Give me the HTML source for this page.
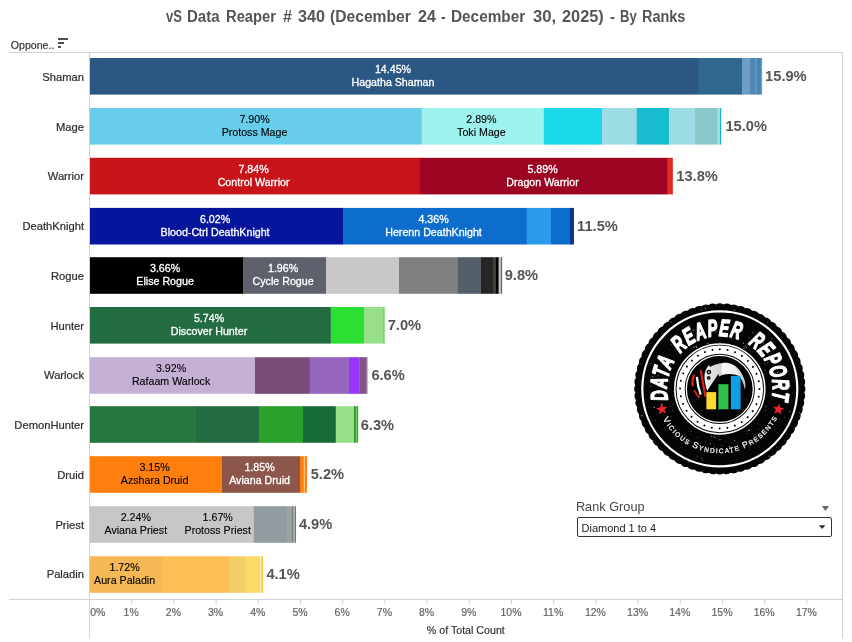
<!DOCTYPE html>
<html lang="en"><head><meta charset="utf-8"><title>vS Data Reaper # 340 - By Ranks</title>
<style>
html,body{margin:0;padding:0;background:#fff}
#viz{position:relative;width:852px;height:642px;overflow:hidden;background:#fff;font-family:"Liberation Sans", sans-serif}
#title{position:absolute;left:0;top:0;width:852px;height:36px;font-weight:bold;font-size:15.6px;line-height:18px;color:#555;white-space:nowrap}
#title span{position:absolute;top:7.9px;display:inline-block;transform-origin:0 0}
#flt-label{position:absolute;left:575.9px;top:499px;font-size:12.75px;line-height:15px;color:#484848;white-space:nowrap}
#flt-menu{position:absolute;left:822px;top:506px;width:0;height:0;border-left:3.6px solid transparent;border-right:3.6px solid transparent;border-top:4.8px solid #6a6a6a}
#flt-box{position:absolute;left:577px;top:517px;width:253px;height:18px;border:1px solid #333;border-radius:2px;background:transparent;box-sizing:content-box}
#flt-box span{position:absolute;left:3.5px;top:2px;transform:translateY(0.5px);font-size:11px;line-height:14px;color:#1a1a1a;white-space:nowrap}
#flt-box i{position:absolute;right:5.8px;top:7.2px;width:0;height:0;border-left:3.2px solid transparent;border-right:3.2px solid transparent;border-top:4px solid #2a2a2a}
</style></head><body>
<div id="viz">
<div id="title"><span style="left:165.8px;transform:scaleX(0.837)">vS</span> <span style="left:186.5px;transform:scaleX(0.961)">Data</span> <span style="left:225.8px;transform:scaleX(0.944)">Reaper</span> <span style="left:282.5px;transform:scaleX(1.022)">#</span> <span style="left:298.3px;transform:scaleX(1.036)">340</span> <span style="left:329.8px;transform:scaleX(1.003)">(December</span> <span style="left:417.5px;transform:scaleX(1.029)">24</span> <span style="left:441.3px;transform:scaleX(0.900)">-</span> <span style="left:451.2px;transform:scaleX(0.984)">December</span> <span style="left:532.5px;transform:scaleX(1.071)">30,</span> <span style="left:561.7px;transform:scaleX(1.046)">2025)</span> <span style="left:610.0px;transform:scaleX(0.940)">-</span> <span style="left:620.0px;transform:scaleX(0.837)">By</span> <span style="left:642.4px;transform:scaleX(0.927)">Ranks</span></div>
<svg width="852" height="642" viewBox="0 0 852 642" style="position:absolute;left:0;top:0" shape-rendering="auto">
<g fill="#d2d2d2">
<rect x="9" y="52" width="834" height="1"/>
<rect x="9" y="599" width="834" height="1"/>
<rect x="89" y="52" width="1" height="586"/>
<rect x="842" y="52" width="1" height="586"/>
<rect x="131.20" y="600" width="1" height="4"/>
<rect x="173.40" y="600" width="1" height="4"/>
<rect x="215.60" y="600" width="1" height="4"/>
<rect x="257.80" y="600" width="1" height="4"/>
<rect x="300.00" y="600" width="1" height="4"/>
<rect x="342.20" y="600" width="1" height="4"/>
<rect x="384.40" y="600" width="1" height="4"/>
<rect x="426.60" y="600" width="1" height="4"/>
<rect x="468.80" y="600" width="1" height="4"/>
<rect x="511.00" y="600" width="1" height="4"/>
<rect x="553.20" y="600" width="1" height="4"/>
<rect x="595.40" y="600" width="1" height="4"/>
<rect x="637.60" y="600" width="1" height="4"/>
<rect x="679.80" y="600" width="1" height="4"/>
<rect x="722.00" y="600" width="1" height="4"/>
<rect x="764.20" y="600" width="1" height="4"/>
<rect x="806.40" y="600" width="1" height="4"/>
</g>
<g>
<rect x="90.00" y="58.00" width="608.95" height="36.6" fill="#2b5783"/>
<rect x="698.80" y="58.00" width="43.35" height="36.6" fill="#30678f"/>
<rect x="742.00" y="58.00" width="8.15" height="36.6" fill="#6c9dc5"/>
<rect x="750.00" y="58.00" width="5.15" height="36.6" fill="#5585b5"/>
<rect x="755.00" y="58.00" width="2.15" height="36.6" fill="#4f9bc8"/>
<rect x="757.00" y="58.00" width="4.35" height="36.6" fill="#5080b0"/>
<rect x="761.20" y="58.00" width="0.95" height="36.6" fill="#1fb2d0"/>
<rect x="90.00" y="108.00" width="331.95" height="36.6" fill="#67cdea"/>
<rect x="421.80" y="108.00" width="122.05" height="36.6" fill="#9df2ee"/>
<rect x="543.70" y="108.00" width="58.45" height="36.6" fill="#1bd9ea"/>
<rect x="602.00" y="108.00" width="34.85" height="36.6" fill="#9ddbe5"/>
<rect x="636.70" y="108.00" width="32.45" height="36.6" fill="#19bdd0"/>
<rect x="669.00" y="108.00" width="26.15" height="36.6" fill="#9ddbe5"/>
<rect x="695.00" y="108.00" width="22.85" height="36.6" fill="#8bc8cc"/>
<rect x="717.70" y="108.00" width="2.45" height="36.6" fill="#a8dde2"/>
<rect x="720.00" y="108.00" width="1.15" height="36.6" fill="#17b5cf"/>
<rect x="90.00" y="157.80" width="330.15" height="36.6" fill="#c81418"/>
<rect x="420.00" y="157.80" width="247.85" height="36.6" fill="#9b0522"/>
<rect x="667.70" y="157.80" width="5.15" height="36.6" fill="#e02a24"/>
<rect x="90.00" y="207.90" width="253.15" height="36.6" fill="#05169c"/>
<rect x="343.00" y="207.90" width="183.95" height="36.6" fill="#0d6dcd"/>
<rect x="526.80" y="207.90" width="24.35" height="36.6" fill="#2b9aec"/>
<rect x="551.00" y="207.90" width="19.15" height="36.6" fill="#0d6dcd"/>
<rect x="570.00" y="207.90" width="3.95" height="36.6" fill="#0a3390"/>
<rect x="90.00" y="257.20" width="153.15" height="36.6" fill="#000000"/>
<rect x="243.00" y="257.20" width="83.15" height="36.6" fill="#5d616b"/>
<rect x="326.00" y="257.20" width="73.15" height="36.6" fill="#c8c8c8"/>
<rect x="399.00" y="257.20" width="58.95" height="36.6" fill="#808080"/>
<rect x="457.80" y="257.20" width="23.35" height="36.6" fill="#545f6b"/>
<rect x="481.00" y="257.20" width="12.15" height="36.6" fill="#252525"/>
<rect x="493.00" y="257.20" width="2.95" height="36.6" fill="#404040"/>
<rect x="495.80" y="257.20" width="3.05" height="36.6" fill="#000000"/>
<rect x="498.70" y="257.20" width="2.25" height="36.6" fill="#c8c8c8"/>
<rect x="500.80" y="257.20" width="1.35" height="36.6" fill="#6a6a6a"/>
<rect x="90.00" y="307.00" width="240.95" height="36.6" fill="#236b41"/>
<rect x="330.80" y="307.00" width="33.35" height="36.6" fill="#2ddf33"/>
<rect x="364.00" y="307.00" width="19.45" height="36.6" fill="#98df8a"/>
<rect x="383.30" y="307.00" width="1.15" height="36.6" fill="#7ab648"/>
<rect x="384.30" y="307.00" width="0.85" height="36.6" fill="#98df8a"/>
<rect x="90.00" y="357.20" width="165.15" height="36.6" fill="#c5b0d5"/>
<rect x="255.00" y="357.20" width="54.95" height="36.6" fill="#7b4b79"/>
<rect x="309.80" y="357.20" width="39.35" height="36.6" fill="#9467bd"/>
<rect x="349.00" y="357.20" width="10.35" height="36.6" fill="#9933ff"/>
<rect x="359.20" y="357.20" width="7.65" height="36.6" fill="#845582"/>
<rect x="366.70" y="357.20" width="0.95" height="36.6" fill="#b08fc0"/>
<rect x="90.00" y="406.20" width="106.15" height="36.6" fill="#26763f"/>
<rect x="196.00" y="406.20" width="63.15" height="36.6" fill="#236b41"/>
<rect x="259.00" y="406.20" width="44.15" height="36.6" fill="#2ca02c"/>
<rect x="303.00" y="406.20" width="32.95" height="36.6" fill="#186a38"/>
<rect x="335.80" y="406.20" width="18.35" height="36.6" fill="#98df8a"/>
<rect x="354.00" y="406.20" width="2.15" height="36.6" fill="#2ca02c"/>
<rect x="356.00" y="406.20" width="0.85" height="36.6" fill="#98df8a"/>
<rect x="356.70" y="406.20" width="1.45" height="36.6" fill="#2ca02c"/>
<rect x="90.00" y="456.20" width="132.15" height="36.6" fill="#ff7f0e"/>
<rect x="222.00" y="456.20" width="78.15" height="36.6" fill="#8c564b"/>
<rect x="300.00" y="456.20" width="3.95" height="36.6" fill="#ff7f0e"/>
<rect x="303.80" y="456.20" width="1.35" height="36.6" fill="#ffc080"/>
<rect x="305.00" y="456.20" width="1.95" height="36.6" fill="#ff7f0e"/>
<rect x="90.00" y="506.20" width="163.95" height="36.6" fill="#c7c7c7"/>
<rect x="253.80" y="506.20" width="33.35" height="36.6" fill="#929b9f"/>
<rect x="287.00" y="506.20" width="4.95" height="36.6" fill="#9aa3a6"/>
<rect x="291.80" y="506.20" width="2.05" height="36.6" fill="#808080"/>
<rect x="293.70" y="506.20" width="1.15" height="36.6" fill="#c8c8c8"/>
<rect x="294.70" y="506.20" width="1.25" height="36.6" fill="#707070"/>
<rect x="90.00" y="556.20" width="72.15" height="36.6" fill="#f6b856"/>
<rect x="162.00" y="556.20" width="68.15" height="36.6" fill="#fdbe55"/>
<rect x="230.00" y="556.20" width="15.95" height="36.6" fill="#f2ce68"/>
<rect x="245.80" y="556.20" width="14.35" height="36.6" fill="#ffd966"/>
<rect x="260.00" y="556.20" width="1.15" height="36.6" fill="#fff5cc"/>
<rect x="261.00" y="556.20" width="1.95" height="36.6" fill="#ffcf33"/>
</g>
<g font-family='"Liberation Sans", sans-serif' font-size="10.67" text-anchor="middle">
<text x="393.0" y="72.7" fill="#ffffff" stroke="#ffffff" stroke-width="0.3">14.45%</text>
<text x="393.0" y="86.0" fill="#ffffff" stroke="#ffffff" stroke-width="0.3">Hagatha Shaman</text>
<text x="254.5" y="122.7" fill="#000000" stroke="#000000" stroke-width="0.12">7.90%</text>
<text x="254.5" y="136.0" fill="#000000" stroke="#000000" stroke-width="0.12">Protoss Mage</text>
<text x="481.4" y="122.7" fill="#000000" stroke="#000000" stroke-width="0.12">2.89%</text>
<text x="481.4" y="136.0" fill="#000000" stroke="#000000" stroke-width="0.12">Toki Mage</text>
<text x="253.6" y="172.5" fill="#ffffff" stroke="#ffffff" stroke-width="0.3">7.84%</text>
<text x="253.6" y="185.8" fill="#ffffff" stroke="#ffffff" stroke-width="0.3">Control Warrior</text>
<text x="542.5" y="172.5" fill="#ffffff" stroke="#ffffff" stroke-width="0.3">5.89%</text>
<text x="542.5" y="185.8" fill="#ffffff" stroke="#ffffff" stroke-width="0.3">Dragon Warrior</text>
<text x="215.1" y="222.6" fill="#ffffff" stroke="#ffffff" stroke-width="0.3">6.02%</text>
<text x="215.1" y="235.9" fill="#ffffff" stroke="#ffffff" stroke-width="0.3">Blood-Ctrl DeathKnight</text>
<text x="433.5" y="222.6" fill="#ffffff" stroke="#ffffff" stroke-width="0.3">4.36%</text>
<text x="433.5" y="235.9" fill="#ffffff" stroke="#ffffff" stroke-width="0.3">Herenn DeathKnight</text>
<text x="165.1" y="271.9" fill="#ffffff" stroke="#ffffff" stroke-width="0.3">3.66%</text>
<text x="165.1" y="285.2" fill="#ffffff" stroke="#ffffff" stroke-width="0.3">Elise Rogue</text>
<text x="283.1" y="271.9" fill="#ffffff" stroke="#ffffff" stroke-width="0.3">1.96%</text>
<text x="283.1" y="285.2" fill="#ffffff" stroke="#ffffff" stroke-width="0.3">Cycle Rogue</text>
<text x="209.0" y="321.7" fill="#ffffff" stroke="#ffffff" stroke-width="0.3">5.74%</text>
<text x="209.0" y="335.0" fill="#ffffff" stroke="#ffffff" stroke-width="0.3">Discover Hunter</text>
<text x="171.1" y="371.9" fill="#000000" stroke="#000000" stroke-width="0.12">3.92%</text>
<text x="171.1" y="385.2" fill="#000000" stroke="#000000" stroke-width="0.12">Rafaam Warlock</text>
<text x="154.6" y="470.9" fill="#000000" stroke="#000000" stroke-width="0.12">3.15%</text>
<text x="154.6" y="484.2" fill="#000000" stroke="#000000" stroke-width="0.12">Azshara Druid</text>
<text x="259.6" y="470.9" fill="#ffffff" stroke="#ffffff" stroke-width="0.3">1.85%</text>
<text x="259.6" y="484.2" fill="#ffffff" stroke="#ffffff" stroke-width="0.3">Aviana Druid</text>
<text x="135.8" y="520.9" fill="#000000" stroke="#000000" stroke-width="0.12">2.24%</text>
<text x="135.8" y="534.2" fill="#000000" stroke="#000000" stroke-width="0.12">Aviana Priest</text>
<text x="217.7" y="520.9" fill="#000000" stroke="#000000" stroke-width="0.12">1.67%</text>
<text x="217.7" y="534.2" fill="#000000" stroke="#000000" stroke-width="0.12">Protoss Priest</text>
<text x="124.6" y="570.9" fill="#000000" stroke="#000000" stroke-width="0.12">1.72%</text>
<text x="124.6" y="584.2" fill="#000000" stroke="#000000" stroke-width="0.12">Aura Paladin</text>
</g>
<g font-family='"Liberation Sans", sans-serif' font-size="14.67" font-weight="bold" fill="#555555">
<text x="765.1" y="81.3">15.9%</text>
<text x="725.4" y="131.1">15.0%</text>
<text x="676.3" y="180.8">13.8%</text>
<text x="577.1" y="230.6">11.5%</text>
<text x="504.7" y="280.3">9.8%</text>
<text x="387.7" y="330.1">7.0%</text>
<text x="371.4" y="379.8">6.6%</text>
<text x="360.7" y="429.6">6.3%</text>
<text x="310.7" y="479.3">5.2%</text>
<text x="298.9" y="529.0">4.9%</text>
<text x="266.4" y="578.8">4.1%</text>
</g>
<g font-family='"Liberation Sans", sans-serif' font-size="11.2" text-anchor="end" fill="#2e2e2e" stroke="#2e2e2e" stroke-width="0.22">
<text x="84" y="80.7">Shaman</text>
<text x="84" y="130.5">Mage</text>
<text x="84" y="180.2">Warrior</text>
<text x="84" y="230.0">DeathKnight</text>
<text x="84" y="279.7">Rogue</text>
<text x="84" y="329.5">Hunter</text>
<text x="84" y="379.3">Warlock</text>
<text x="84" y="429.0">DemonHunter</text>
<text x="84" y="478.8">Druid</text>
<text x="84" y="528.5">Priest</text>
<text x="84" y="578.3">Paladin</text>
</g>
<g font-family='"Liberation Sans", sans-serif' font-size="10.5" text-anchor="middle" fill="#5e5e5e" stroke="#5e5e5e" stroke-width="0.15">
<text x="90.2" y="615.8" text-anchor="start">0%</text>
<text x="131.2" y="615.8">1%</text>
<text x="173.4" y="615.8">2%</text>
<text x="215.6" y="615.8">3%</text>
<text x="257.8" y="615.8">4%</text>
<text x="300.0" y="615.8">5%</text>
<text x="342.2" y="615.8">6%</text>
<text x="384.4" y="615.8">7%</text>
<text x="426.6" y="615.8">8%</text>
<text x="468.8" y="615.8">9%</text>
<text x="511.0" y="615.8">10%</text>
<text x="553.2" y="615.8">11%</text>
<text x="595.4" y="615.8">12%</text>
<text x="637.6" y="615.8">13%</text>
<text x="679.8" y="615.8">14%</text>
<text x="722.0" y="615.8">15%</text>
<text x="764.2" y="615.8">16%</text>
<text x="806.4" y="615.8">17%</text>
</g>
<text x="465.8" y="633.7" font-family='"Liberation Sans", sans-serif' font-size="10.67" text-anchor="middle" fill="#2e2e2e" stroke="#2e2e2e" stroke-width="0.15">% of Total Count</text>
<text x="10.8" y="48.7" font-family='"Liberation Sans", sans-serif' font-size="10.6" fill="#2e2e2e" stroke="#2e2e2e" stroke-width="0.15">Oppone..</text>
<g fill="#4f4f4f"><rect x="58" y="38" width="10" height="2"/><rect x="58" y="42" width="6" height="2"/><rect x="58" y="46" width="3" height="2"/></g>
<g id="logo">
<defs>
<path id="arcTop" d="M 667.96,399.92 A 53,53 0 1 1 771.64,399.92"/>
<path id="arcBot" d="M 662.92,418.89 A 64.3,64.3 0 0 0 776.99,418.29"/>
<linearGradient id="hoodG" x1="0" y1="0" x2="1" y2="0"><stop offset="0" stop-color="#f6f6f6"/><stop offset="0.15" stop-color="#e2e2e2"/><stop offset="0.40" stop-color="#d4d4d4"/><stop offset="0.44" stop-color="#f8f8f8"/><stop offset="0.8" stop-color="#ececec"/><stop offset="1" stop-color="#bdbdbd"/></linearGradient>
</defs>
<path d="M 723.49,304.38 A 7.0,7.0 0 0 1 730.84,305.02 A 7.0,7.0 0 0 1 738.11,306.31 A 7.0,7.0 0 0 1 745.24,308.22 A 7.0,7.0 0 0 1 752.18,310.74 A 7.0,7.0 0 0 1 758.86,313.86 A 7.0,7.0 0 0 1 765.26,317.55 A 7.0,7.0 0 0 1 771.30,321.78 A 7.0,7.0 0 0 1 776.95,326.53 A 7.0,7.0 0 0 1 782.17,331.75 A 7.0,7.0 0 0 1 786.92,337.40 A 7.0,7.0 0 0 1 791.15,343.44 A 7.0,7.0 0 0 1 794.84,349.84 A 7.0,7.0 0 0 1 797.96,356.52 A 7.0,7.0 0 0 1 800.48,363.46 A 7.0,7.0 0 0 1 802.39,370.59 A 7.0,7.0 0 0 1 803.68,377.86 A 7.0,7.0 0 0 1 804.32,385.21 A 7.0,7.0 0 0 1 804.32,392.59 A 7.0,7.0 0 0 1 803.68,399.94 A 7.0,7.0 0 0 1 802.39,407.21 A 7.0,7.0 0 0 1 800.48,414.34 A 7.0,7.0 0 0 1 797.96,421.28 A 7.0,7.0 0 0 1 794.84,427.96 A 7.0,7.0 0 0 1 791.15,434.36 A 7.0,7.0 0 0 1 786.92,440.40 A 7.0,7.0 0 0 1 782.17,446.05 A 7.0,7.0 0 0 1 776.95,451.27 A 7.0,7.0 0 0 1 771.30,456.02 A 7.0,7.0 0 0 1 765.26,460.25 A 7.0,7.0 0 0 1 758.86,463.94 A 7.0,7.0 0 0 1 752.18,467.06 A 7.0,7.0 0 0 1 745.24,469.58 A 7.0,7.0 0 0 1 738.11,471.49 A 7.0,7.0 0 0 1 730.84,472.78 A 7.0,7.0 0 0 1 723.49,473.42 A 7.0,7.0 0 0 1 716.11,473.42 A 7.0,7.0 0 0 1 708.76,472.78 A 7.0,7.0 0 0 1 701.49,471.49 A 7.0,7.0 0 0 1 694.36,469.58 A 7.0,7.0 0 0 1 687.42,467.06 A 7.0,7.0 0 0 1 680.74,463.94 A 7.0,7.0 0 0 1 674.34,460.25 A 7.0,7.0 0 0 1 668.30,456.02 A 7.0,7.0 0 0 1 662.65,451.27 A 7.0,7.0 0 0 1 657.43,446.05 A 7.0,7.0 0 0 1 652.68,440.40 A 7.0,7.0 0 0 1 648.45,434.36 A 7.0,7.0 0 0 1 644.76,427.96 A 7.0,7.0 0 0 1 641.64,421.28 A 7.0,7.0 0 0 1 639.12,414.34 A 7.0,7.0 0 0 1 637.21,407.21 A 7.0,7.0 0 0 1 635.92,399.94 A 7.0,7.0 0 0 1 635.28,392.59 A 7.0,7.0 0 0 1 635.28,385.21 A 7.0,7.0 0 0 1 635.92,377.86 A 7.0,7.0 0 0 1 637.21,370.59 A 7.0,7.0 0 0 1 639.12,363.46 A 7.0,7.0 0 0 1 641.64,356.52 A 7.0,7.0 0 0 1 644.76,349.84 A 7.0,7.0 0 0 1 648.45,343.44 A 7.0,7.0 0 0 1 652.68,337.40 A 7.0,7.0 0 0 1 657.43,331.75 A 7.0,7.0 0 0 1 662.65,326.53 A 7.0,7.0 0 0 1 668.30,321.78 A 7.0,7.0 0 0 1 674.34,317.55 A 7.0,7.0 0 0 1 680.74,313.86 A 7.0,7.0 0 0 1 687.42,310.74 A 7.0,7.0 0 0 1 694.36,308.22 A 7.0,7.0 0 0 1 701.49,306.31 A 7.0,7.0 0 0 1 708.76,305.02 A 7.0,7.0 0 0 1 716.11,304.38 A 7.0,7.0 0 0 1 723.49,304.38 Z" fill="#050505"/>
<circle cx="719.8" cy="388.9" r="77.5" fill="none" stroke="#ffffff" stroke-width="2.2"/>
<circle cx="719.8" cy="388.9" r="45.0" fill="none" stroke="#ffffff" stroke-width="1.5"/>
<circle cx="719.8" cy="388.9" r="39.2" fill="none" stroke="#ffffff" stroke-width="8.2"/>
<circle cx="719.8" cy="388.9" r="33.5" fill="none" stroke="#ffffff" stroke-width="1.3"/>
<circle cx="719.8" cy="388.9" r="39.7" fill="none" stroke="#000" stroke-width="2.0" stroke-linecap="round" stroke-dasharray="0.01 7.7851" transform="rotate(-90 719.8 388.9)"/>
<text font-family='"Liberation Sans", sans-serif' font-weight="bold" font-style="italic" font-size="23.6" letter-spacing="1.2" word-spacing="6" fill="#ffffff" stroke="#ffffff" stroke-width="1.5" stroke-linejoin="round"><textPath href="#arcTop" textLength="188.7" lengthAdjust="spacingAndGlyphs">DATA REAPER REPORT</textPath></text>
<text font-family='"Liberation Sans", sans-serif' font-size="6.6" fill="#f4f4f4" stroke="#f4f4f4" stroke-width="0.25"><textPath href="#arcBot" textLength="140.3" lengthAdjust="spacing"><tspan font-size="8.6">V</tspan>ICIOUS <tspan font-size="8.6">S</tspan>YNDICATE <tspan font-size="8.6">P</tspan>RESENTS</textPath></text>
<polygon points="661.15,403.32 663.20,406.97 667.37,406.63 664.54,409.71 666.15,413.58 662.34,411.84 659.16,414.56 659.64,410.40 656.07,408.22 660.17,407.39" fill="#e5262b"/>
<polygon points="779.28,403.38 780.25,407.45 784.35,408.28 780.78,410.46 781.26,414.62 778.08,411.90 774.28,413.64 775.89,409.77 773.05,406.69 777.23,407.03" fill="#e5262b"/>
<g transform="translate(690,360) scale(0.07042)">
<path d="M 270,70 L 287,100 C 330,72 420,38 520,38 C 630,42 728,150 766,260 C 790,320 796,370 777,420 C 765,340 740,280 700,232 C 640,196 540,190 455,212 L 415,236 L 402,200 C 370,250 300,350 245,440 C 225,380 205,300 205,230 C 207,170 235,110 270,70 Z" fill="url(#hoodG)"/>
<circle cx="268" cy="172" r="23" fill="#f2f2f2" stroke="#101010" stroke-width="22"/>
<circle cx="265" cy="255" r="17" fill="#9a9a9a" stroke="#101010" stroke-width="20"/>
<circle cx="215" cy="236" r="6" fill="#333"/>
<path d="M 58,207 C 30,270 30,330 38,375" fill="none" stroke="#e0201c" stroke-width="30"/>
<path d="M 60,428 C 80,470 105,505 135,535" fill="none" stroke="#e0201c" stroke-width="27"/>
<path d="M 152,142 L 218,520" fill="none" stroke="#e0201c" stroke-width="30"/>
<path d="M 97,240 C 105,330 125,420 152,492" fill="none" stroke="#ffffff" stroke-width="32"/>
</g>
<rect x="706.4" y="392.1" width="9.7" height="17.2" fill="#fdd835"/>
<rect x="718.4" y="384.2" width="10.0" height="25.1" fill="#2ec04a"/>
<rect x="730.9" y="375.9" width="9.7" height="33.4" fill="#0f9fe8"/>
<circle cx="753.8" cy="436.3" r="0.58" fill="#fff" opacity="0.28"/><circle cx="675.7" cy="438.5" r="0.28" fill="#fff" opacity="0.48"/><circle cx="676.4" cy="408.1" r="0.28" fill="#fff" opacity="0.29"/><circle cx="748.6" cy="333.9" r="0.31" fill="#fff" opacity="0.35"/><circle cx="785.9" cy="366.4" r="0.54" fill="#fff" opacity="0.43"/><circle cx="799.4" cy="412.9" r="0.68" fill="#fff" opacity="0.38"/><circle cx="757.8" cy="423.6" r="0.40" fill="#fff" opacity="0.62"/><circle cx="673.7" cy="363.0" r="0.57" fill="#fff" opacity="0.42"/><circle cx="781.5" cy="414.6" r="0.28" fill="#fff" opacity="0.34"/><circle cx="655.3" cy="420.5" r="0.41" fill="#fff" opacity="0.51"/><circle cx="700.4" cy="449.1" r="0.65" fill="#fff" opacity="0.56"/><circle cx="670.5" cy="364.0" r="0.51" fill="#fff" opacity="0.64"/><circle cx="702.4" cy="460.5" r="0.74" fill="#fff" opacity="0.30"/><circle cx="722.6" cy="327.1" r="0.33" fill="#fff" opacity="0.47"/><circle cx="696.5" cy="347.5" r="0.63" fill="#fff" opacity="0.51"/><circle cx="688.9" cy="461.9" r="0.60" fill="#fff" opacity="0.52"/><circle cx="654.3" cy="407.4" r="0.67" fill="#fff" opacity="0.68"/><circle cx="686.9" cy="334.0" r="0.28" fill="#fff" opacity="0.57"/><circle cx="790.3" cy="385.8" r="0.66" fill="#fff" opacity="0.38"/><circle cx="690.1" cy="336.0" r="0.26" fill="#fff" opacity="0.46"/><circle cx="758.6" cy="424.1" r="0.28" fill="#fff" opacity="0.60"/><circle cx="720.6" cy="439.8" r="0.45" fill="#fff" opacity="0.64"/><circle cx="673.2" cy="404.3" r="0.52" fill="#fff" opacity="0.65"/><circle cx="770.4" cy="330.7" r="0.39" fill="#fff" opacity="0.44"/><circle cx="764.3" cy="349.2" r="0.73" fill="#fff" opacity="0.32"/><circle cx="725.8" cy="441.3" r="0.37" fill="#fff" opacity="0.47"/><circle cx="714.3" cy="457.1" r="0.25" fill="#fff" opacity="0.44"/><circle cx="664.9" cy="364.6" r="0.73" fill="#fff" opacity="0.56"/><circle cx="671.3" cy="344.7" r="0.59" fill="#fff" opacity="0.27"/><circle cx="734.8" cy="310.1" r="0.69" fill="#fff" opacity="0.61"/><circle cx="670.8" cy="425.0" r="0.30" fill="#fff" opacity="0.54"/><circle cx="763.9" cy="408.8" r="0.35" fill="#fff" opacity="0.32"/><circle cx="775.5" cy="408.0" r="0.25" fill="#fff" opacity="0.32"/><circle cx="687.2" cy="426.6" r="0.26" fill="#fff" opacity="0.64"/><circle cx="761.1" cy="444.6" r="0.38" fill="#fff" opacity="0.41"/><circle cx="762.7" cy="430.6" r="0.67" fill="#fff" opacity="0.70"/><circle cx="656.4" cy="395.4" r="0.29" fill="#fff" opacity="0.30"/><circle cx="714.3" cy="447.7" r="0.66" fill="#fff" opacity="0.32"/><circle cx="764.5" cy="374.7" r="0.51" fill="#fff" opacity="0.32"/><circle cx="785.5" cy="400.2" r="0.51" fill="#fff" opacity="0.69"/><circle cx="693.7" cy="314.6" r="0.38" fill="#fff" opacity="0.42"/><circle cx="727.0" cy="337.0" r="0.52" fill="#fff" opacity="0.60"/><circle cx="729.7" cy="446.6" r="0.66" fill="#fff" opacity="0.69"/><circle cx="746.9" cy="315.3" r="0.66" fill="#fff" opacity="0.58"/><circle cx="665.5" cy="382.9" r="0.43" fill="#fff" opacity="0.26"/><circle cx="711.2" cy="435.2" r="0.38" fill="#fff" opacity="0.56"/><circle cx="641.9" cy="415.7" r="0.72" fill="#fff" opacity="0.69"/><circle cx="665.5" cy="450.8" r="0.36" fill="#fff" opacity="0.35"/><circle cx="734.9" cy="440.2" r="0.56" fill="#fff" opacity="0.66"/><circle cx="642.5" cy="398.9" r="0.58" fill="#fff" opacity="0.61"/><circle cx="693.6" cy="347.2" r="0.70" fill="#fff" opacity="0.60"/><circle cx="646.0" cy="399.2" r="0.34" fill="#fff" opacity="0.61"/><circle cx="738.2" cy="333.2" r="0.74" fill="#fff" opacity="0.43"/><circle cx="777.7" cy="368.8" r="0.61" fill="#fff" opacity="0.33"/><circle cx="749.4" cy="430.2" r="0.70" fill="#fff" opacity="0.61"/><circle cx="743.6" cy="343.2" r="0.74" fill="#fff" opacity="0.55"/><circle cx="663.2" cy="371.0" r="0.32" fill="#fff" opacity="0.26"/><circle cx="670.9" cy="321.9" r="0.51" fill="#fff" opacity="0.67"/><circle cx="763.1" cy="343.8" r="0.66" fill="#fff" opacity="0.34"/><circle cx="705.0" cy="442.5" r="0.37" fill="#fff" opacity="0.51"/><circle cx="671.0" cy="416.1" r="0.32" fill="#fff" opacity="0.66"/><circle cx="662.4" cy="404.3" r="0.54" fill="#fff" opacity="0.66"/><circle cx="773.7" cy="358.3" r="0.50" fill="#fff" opacity="0.49"/><circle cx="785.2" cy="396.6" r="0.47" fill="#fff" opacity="0.33"/><circle cx="733.8" cy="344.9" r="0.34" fill="#fff" opacity="0.46"/><circle cx="650.8" cy="363.3" r="0.41" fill="#fff" opacity="0.48"/><circle cx="734.1" cy="323.3" r="0.30" fill="#fff" opacity="0.50"/><circle cx="710.5" cy="443.6" r="0.64" fill="#fff" opacity="0.48"/><circle cx="724.0" cy="321.7" r="0.71" fill="#fff" opacity="0.45"/><circle cx="650.6" cy="386.5" r="0.51" fill="#fff" opacity="0.56"/><circle cx="658.0" cy="375.8" r="0.49" fill="#fff" opacity="0.67"/><circle cx="771.6" cy="338.1" r="0.72" fill="#fff" opacity="0.37"/><circle cx="782.8" cy="365.4" r="0.67" fill="#fff" opacity="0.31"/><circle cx="672.5" cy="406.9" r="0.29" fill="#fff" opacity="0.36"/><circle cx="696.2" cy="346.2" r="0.64" fill="#fff" opacity="0.65"/><circle cx="708.8" cy="338.2" r="0.58" fill="#fff" opacity="0.31"/><circle cx="797.7" cy="372.8" r="0.36" fill="#fff" opacity="0.68"/><circle cx="658.9" cy="393.8" r="0.74" fill="#fff" opacity="0.62"/><circle cx="672.4" cy="410.6" r="0.51" fill="#fff" opacity="0.40"/><circle cx="697.5" cy="437.5" r="0.61" fill="#fff" opacity="0.26"/><circle cx="657.4" cy="413.4" r="0.26" fill="#fff" opacity="0.40"/><circle cx="650.3" cy="383.5" r="0.28" fill="#fff" opacity="0.69"/><circle cx="794.6" cy="375.5" r="0.30" fill="#fff" opacity="0.37"/><circle cx="728.4" cy="342.2" r="0.39" fill="#fff" opacity="0.31"/><circle cx="772.5" cy="356.1" r="0.66" fill="#fff" opacity="0.37"/><circle cx="765.0" cy="363.8" r="0.54" fill="#fff" opacity="0.57"/><circle cx="766.0" cy="406.4" r="0.59" fill="#fff" opacity="0.44"/><circle cx="764.9" cy="370.5" r="0.57" fill="#fff" opacity="0.61"/><circle cx="750.2" cy="350.3" r="0.28" fill="#fff" opacity="0.64"/><circle cx="686.2" cy="442.5" r="0.53" fill="#fff" opacity="0.67"/><circle cx="758.5" cy="429.7" r="0.51" fill="#fff" opacity="0.36"/><circle cx="746.3" cy="431.5" r="0.28" fill="#fff" opacity="0.34"/><circle cx="700.2" cy="443.3" r="0.63" fill="#fff" opacity="0.38"/><circle cx="748.3" cy="447.3" r="0.42" fill="#fff" opacity="0.26"/><circle cx="775.1" cy="394.2" r="0.62" fill="#fff" opacity="0.50"/><circle cx="667.3" cy="397.3" r="0.72" fill="#fff" opacity="0.30"/><circle cx="649.6" cy="420.8" r="0.50" fill="#fff" opacity="0.63"/><circle cx="658.9" cy="386.3" r="0.59" fill="#fff" opacity="0.69"/><circle cx="749.0" cy="337.6" r="0.60" fill="#fff" opacity="0.54"/><circle cx="684.5" cy="439.1" r="0.28" fill="#fff" opacity="0.31"/><circle cx="717.0" cy="340.3" r="0.38" fill="#fff" opacity="0.32"/><circle cx="746.5" cy="347.6" r="0.69" fill="#fff" opacity="0.55"/><circle cx="722.6" cy="445.5" r="0.40" fill="#fff" opacity="0.46"/><circle cx="670.8" cy="406.3" r="0.38" fill="#fff" opacity="0.68"/><circle cx="640.4" cy="364.7" r="0.37" fill="#fff" opacity="0.68"/><circle cx="683.9" cy="434.2" r="0.25" fill="#fff" opacity="0.42"/><circle cx="655.8" cy="387.8" r="0.35" fill="#fff" opacity="0.48"/><circle cx="715.7" cy="434.9" r="0.29" fill="#fff" opacity="0.43"/><circle cx="766.9" cy="395.6" r="0.40" fill="#fff" opacity="0.35"/><circle cx="652.7" cy="376.5" r="0.63" fill="#fff" opacity="0.55"/><circle cx="772.9" cy="338.5" r="0.44" fill="#fff" opacity="0.40"/><circle cx="769.1" cy="456.2" r="0.61" fill="#fff" opacity="0.54"/><circle cx="744.1" cy="347.9" r="0.70" fill="#fff" opacity="0.53"/><circle cx="748.0" cy="320.6" r="0.32" fill="#fff" opacity="0.49"/><circle cx="753.0" cy="332.8" r="0.65" fill="#fff" opacity="0.62"/><circle cx="773.1" cy="346.4" r="0.59" fill="#fff" opacity="0.56"/><circle cx="773.5" cy="399.5" r="0.32" fill="#fff" opacity="0.41"/><circle cx="745.5" cy="346.0" r="0.53" fill="#fff" opacity="0.53"/><circle cx="690.3" cy="325.6" r="0.49" fill="#fff" opacity="0.25"/><circle cx="719.0" cy="312.6" r="0.50" fill="#fff" opacity="0.49"/><circle cx="784.8" cy="417.5" r="0.62" fill="#fff" opacity="0.36"/><circle cx="715.0" cy="437.5" r="0.61" fill="#fff" opacity="0.34"/><circle cx="793.1" cy="377.6" r="0.50" fill="#fff" opacity="0.42"/><circle cx="693.8" cy="330.2" r="0.63" fill="#fff" opacity="0.53"/><circle cx="782.0" cy="421.8" r="0.32" fill="#fff" opacity="0.36"/><circle cx="694.9" cy="458.8" r="0.53" fill="#fff" opacity="0.26"/><circle cx="714.1" cy="436.9" r="0.59" fill="#fff" opacity="0.56"/><circle cx="701.6" cy="458.2" r="0.51" fill="#fff" opacity="0.46"/><circle cx="766.7" cy="432.1" r="0.70" fill="#fff" opacity="0.34"/><circle cx="796.4" cy="356.5" r="0.26" fill="#fff" opacity="0.46"/><circle cx="795.4" cy="373.5" r="0.47" fill="#fff" opacity="0.37"/><circle cx="770.7" cy="370.8" r="0.36" fill="#fff" opacity="0.51"/><circle cx="669.0" cy="381.2" r="0.73" fill="#fff" opacity="0.31"/><circle cx="642.7" cy="384.7" r="0.69" fill="#fff" opacity="0.57"/><circle cx="763.7" cy="356.1" r="0.49" fill="#fff" opacity="0.26"/><circle cx="673.7" cy="391.3" r="0.48" fill="#fff" opacity="0.39"/><circle cx="691.2" cy="431.6" r="0.41" fill="#fff" opacity="0.63"/><circle cx="720.0" cy="342.8" r="0.67" fill="#fff" opacity="0.30"/><circle cx="701.1" cy="309.9" r="0.70" fill="#fff" opacity="0.38"/><circle cx="672.8" cy="426.4" r="0.75" fill="#fff" opacity="0.52"/><circle cx="666.1" cy="415.0" r="0.39" fill="#fff" opacity="0.27"/><circle cx="745.1" cy="345.9" r="0.39" fill="#fff" opacity="0.67"/><circle cx="714.3" cy="444.1" r="0.51" fill="#fff" opacity="0.34"/><circle cx="777.7" cy="372.5" r="0.69" fill="#fff" opacity="0.62"/><circle cx="779.7" cy="352.7" r="0.72" fill="#fff" opacity="0.50"/><circle cx="789.6" cy="411.3" r="0.62" fill="#fff" opacity="0.45"/><circle cx="673.9" cy="330.1" r="0.39" fill="#fff" opacity="0.27"/><circle cx="776.4" cy="447.2" r="0.49" fill="#fff" opacity="0.40"/><circle cx="715.9" cy="331.7" r="0.74" fill="#fff" opacity="0.37"/><circle cx="697.5" cy="456.2" r="0.53" fill="#fff" opacity="0.43"/><circle cx="747.4" cy="433.4" r="0.35" fill="#fff" opacity="0.66"/><circle cx="731.9" cy="452.6" r="0.70" fill="#fff" opacity="0.70"/><circle cx="760.1" cy="437.4" r="0.35" fill="#fff" opacity="0.29"/><circle cx="769.4" cy="420.9" r="0.37" fill="#fff" opacity="0.37"/><circle cx="771.2" cy="344.9" r="0.62" fill="#fff" opacity="0.44"/><circle cx="658.8" cy="379.6" r="0.44" fill="#fff" opacity="0.40"/><circle cx="711.5" cy="436.5" r="0.73" fill="#fff" opacity="0.31"/><circle cx="675.1" cy="341.5" r="0.68" fill="#fff" opacity="0.35"/><circle cx="720.3" cy="445.2" r="0.45" fill="#fff" opacity="0.45"/><circle cx="767.6" cy="322.0" r="0.69" fill="#fff" opacity="0.26"/><circle cx="707.9" cy="343.2" r="0.70" fill="#fff" opacity="0.46"/><circle cx="788.1" cy="389.0" r="0.45" fill="#fff" opacity="0.67"/><circle cx="767.4" cy="327.9" r="0.74" fill="#fff" opacity="0.36"/><circle cx="748.1" cy="430.3" r="0.51" fill="#fff" opacity="0.56"/><circle cx="705.4" cy="308.4" r="0.57" fill="#fff" opacity="0.59"/><circle cx="659.7" cy="368.7" r="0.27" fill="#fff" opacity="0.60"/><circle cx="767.8" cy="362.5" r="0.57" fill="#fff" opacity="0.39"/><circle cx="719.2" cy="439.8" r="0.57" fill="#fff" opacity="0.56"/><circle cx="765.2" cy="410.4" r="0.51" fill="#fff" opacity="0.51"/><circle cx="729.8" cy="448.8" r="0.55" fill="#fff" opacity="0.25"/>
</g>
<polygon points="821.8,506 829.1,506 825.45,510.9" fill="#666666"/>
<polygon points="818.9,525.2 825.4,525.2 822.15,529.1" fill="#2a2a2a"/>
</svg>
<div id="flt-label">Rank Group</div>
<div id="flt-box"><span>Diamond 1 to 4</span></div>
</div>
</body></html>
